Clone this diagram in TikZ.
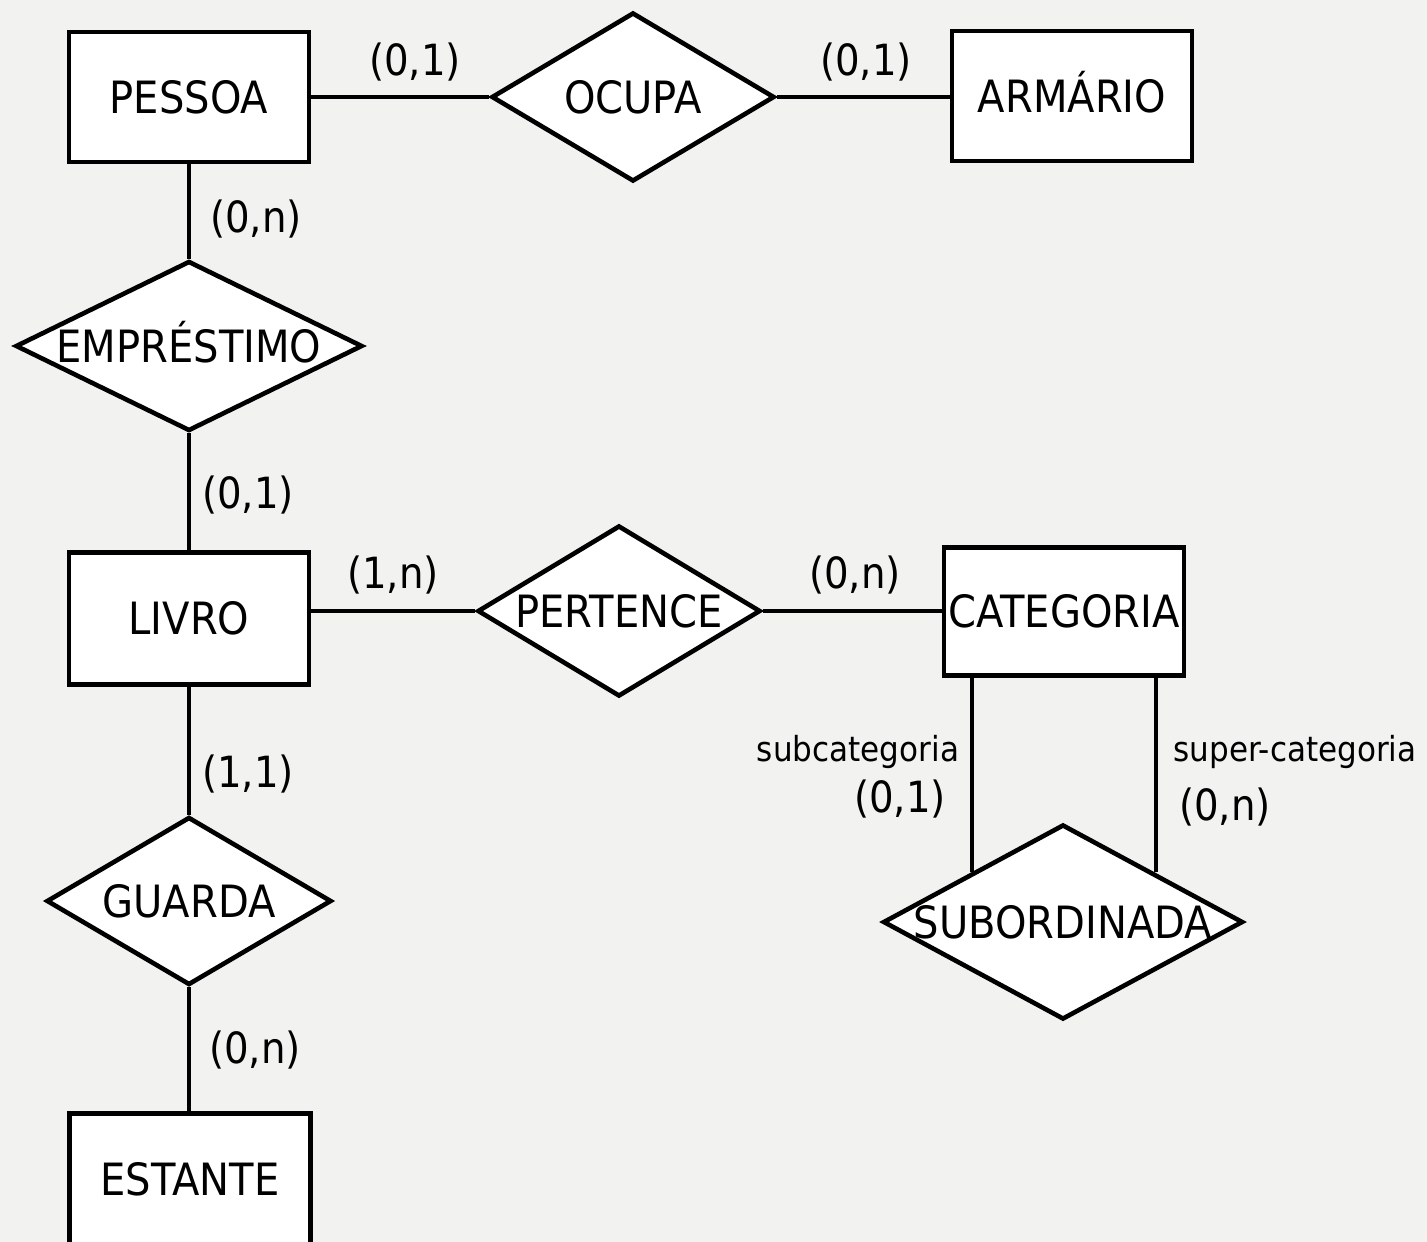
\documentclass[tikz,border=0pt]{standalone}
\usepackage{fontspec}
\setmainfont[FakeStretch=0.9]{DejaVu Sans}
\usetikzlibrary{shapes.geometric}
\definecolor{bg}{RGB}{242,242,240}
\begin{document}
\begin{tikzpicture}[x=1pt,y=-1pt,
  every node/.style={inner sep=0pt},
  ent/.style={draw, fill=white, line width=4.6pt, minimum width=240pt, minimum height=130pt,
    text height=32pt, text depth=0pt, font=\fontsize{44.5}{50}\selectfont},
  rel/.style={draw, fill=white, shape=diamond, aspect=2, line width=4.6pt,
    text height=32pt, text depth=0pt, font=\fontsize{44.5}{50}\selectfont},
  card/.style={anchor=base, font=\fontsize{43}{48}\selectfont},
  role/.style={anchor=base, font=\fontsize{34.5}{40}\selectfont},
  conn/.style={line width=4.6pt}]
\fill[bg] (0,0) rectangle (1427,1242);
\useasboundingbox (0,0) rectangle (1427,1242);

\node[ent] (pessoa) at (189,97) {\makebox[0pt]{PESSOA}};
\node[ent] (armario) at (1072,96) {\makebox[0pt]{ARMÁRIO}};
\node[rel, minimum width=283pt, minimum height=169pt] (ocupa) at (633,97) {\makebox[0pt]{OCUPA}};
\node[rel, minimum width=347pt, minimum height=170pt] (emprestimo) at (189,346) {\makebox[0pt]{EMPRÉSTIMO}};
\node[ent, minimum height=132pt] (livro) at (189,618.5) {\makebox[0pt]{LIVRO}};
\node[rel, minimum width=283pt, minimum height=171pt] (pertence) at (619,611) {\makebox[0pt]{PERTENCE}};
\node[ent, minimum height=128pt] (categoria) at (1064,611.5) {\makebox[0pt]{CATEGORIA}};
\node[rel, minimum width=285pt, minimum height=168pt] (guarda) at (189,901) {\makebox[0pt]{GUARDA}};
\node[ent, minimum width=241pt, minimum height=131pt] (estante) at (190,1179) {\makebox[0pt]{ESTANTE}};
\node[rel, minimum width=360pt, minimum height=195pt] (sub) at (1063,922) {\makebox[0pt]{SUBORDINADA}};

\draw[conn] (pessoa.east) -- (ocupa.west);
\draw[conn] (ocupa.east) -- (armario.west |- ocupa.east);
\draw[conn] (pessoa.south) -- (emprestimo.north);
\draw[conn] (emprestimo.south) -- (livro.north);
\draw[conn] (livro.east |- pertence.west) -- (pertence.west);
\draw[conn] (pertence.east) -- (categoria.west |- pertence.east);
\draw[conn] (livro.south) -- (guarda.north);
\draw[conn] (guarda.south) -- (estante.north -| guarda.south);
\draw[conn] (sub.north west) -- (sub.north west |- categoria.south);
\draw[conn] ([xshift=2pt]sub.north east) -- ([xshift=2pt]sub.north east |- categoria.south);

\node[card] (c1) at (415,75) {(0,1)};
\node[card] (c2) at (866,75) {(0,1)};
\node[card] (c3) at (256,232) {(0,n)};
\node[card] (c4) at (248,508) {(0,1)};
\node[card] (c5) at (393,588) {(1,n)};
\node[card] (c6) at (855,588) {(0,n)};
\node[card] (c7) at (248,787) {(1,1)};
\node[card] (c8) at (255,1063) {(0,n)};
\node[role] (subcat) at (858,761) {subcategoria};
\node[card] (c9) at (900,812) {(0,1)};
\node[role] (supercat) at (1295,761) {super-categoria};
\node[card] (c10) at (1225,820) {(0,n)};
\end{tikzpicture}
\end{document}
